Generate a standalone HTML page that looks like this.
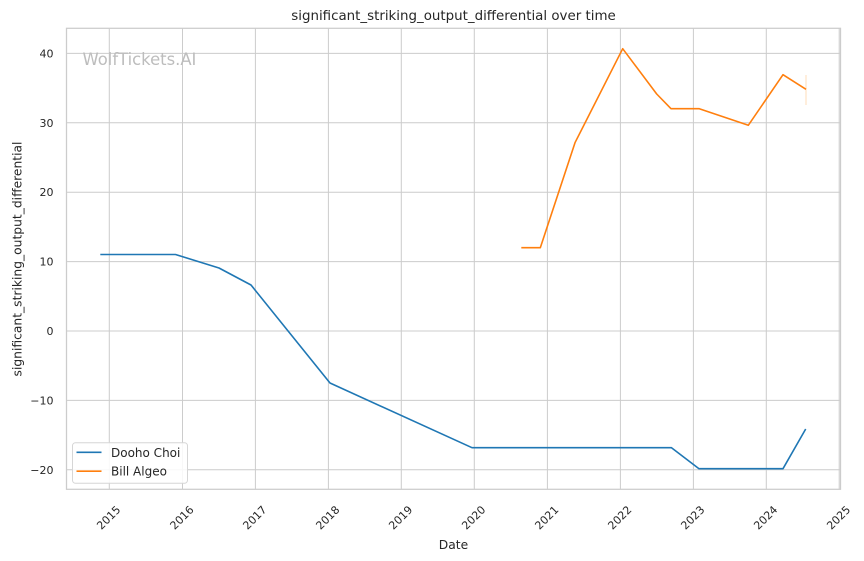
<!DOCTYPE html>
<html>
<head>
<meta charset="utf-8">
<style>
  html, body { margin:0; padding:0; background:#ffffff; }
  svg { display:block; }
  text { font-family: "DejaVu Sans", "Liberation Sans", sans-serif; fill:#262626; }
</style>
</head>
<body>
<svg width="864" height="561" viewBox="0 0 864 561" xmlns="http://www.w3.org/2000/svg">
  <rect x="0" y="0" width="864" height="561" fill="#ffffff"/>
  <!-- grid -->
  <g stroke="#cccccc" stroke-width="1" fill="none">
    <line x1="66.5" y1="469.8" x2="840.5" y2="469.8"/>
    <line x1="66.5" y1="400.4" x2="840.5" y2="400.4"/>
    <line x1="66.5" y1="331" x2="840.5" y2="331"/>
    <line x1="66.5" y1="261.6" x2="840.5" y2="261.6"/>
    <line x1="66.5" y1="192.2" x2="840.5" y2="192.2"/>
    <line x1="66.5" y1="122.8" x2="840.5" y2="122.8"/>
    <line x1="66.5" y1="53.4" x2="840.5" y2="53.4"/>
    <line x1="109.3" y1="28.3" x2="109.3" y2="489.3"/>
    <line x1="182.5" y1="28.3" x2="182.5" y2="489.3"/>
    <line x1="255.4" y1="28.3" x2="255.4" y2="489.3"/>
    <line x1="328.4" y1="28.3" x2="328.4" y2="489.3"/>
    <line x1="401.3" y1="28.3" x2="401.3" y2="489.3"/>
    <line x1="474.3" y1="28.3" x2="474.3" y2="489.3"/>
    <line x1="547.4" y1="28.3" x2="547.4" y2="489.3"/>
    <line x1="620.4" y1="28.3" x2="620.4" y2="489.3"/>
    <line x1="693.4" y1="28.3" x2="693.4" y2="489.3"/>
    <line x1="766.3" y1="28.3" x2="766.3" y2="489.3"/>
    <line x1="839.2" y1="28.3" x2="839.2" y2="489.3"/>
  </g>
  <!-- spines -->
  <rect x="66.5" y="28.3" width="774" height="461" fill="none" stroke="#cccccc" stroke-width="1.25"/>

  <!-- watermark -->
  <text x="82.5" y="65" font-size="16.4" style="fill:#bdbdbd">WolfTickets.AI</text>

  <!-- series -->
  <polyline fill="none" stroke="#1f77b4" stroke-width="1.6" stroke-linejoin="round"
    points="100.3,254.5 175.5,254.5 219,268 251,285 330,383 472,447.7 671.5,447.7 699,468.7 783,468.7 805.7,429"/>
  <line x1="806" y1="75" x2="806" y2="105" stroke="#ffdcb8" stroke-width="1"/>
  <polyline fill="none" stroke="#ff7f0e" stroke-width="1.6" stroke-linejoin="round"
    points="521.3,247.7 540.3,247.7 575,142.7 622.7,48.7 656.7,94 671,108.7 699.3,108.7 748.3,125.3 783,74.7 806,89.3"/>

  <!-- y tick labels -->
  <g font-size="11" text-anchor="end">
    <text x="53.5" y="473.8">−20</text>
    <text x="53.5" y="404.4">−10</text>
    <text x="53.5" y="335">0</text>
    <text x="53.5" y="265.6">10</text>
    <text x="53.5" y="196.2">20</text>
    <text x="53.5" y="126.8">30</text>
    <text x="53.5" y="57.4">40</text>
  </g>

  <!-- x tick labels -->
  <g font-size="11" text-anchor="middle">
    <text transform="translate(108.5,517.5) rotate(-45)" y="4">2015</text>
    <text transform="translate(181.7,517.5) rotate(-45)" y="4">2016</text>
    <text transform="translate(254.6,517.5) rotate(-45)" y="4">2017</text>
    <text transform="translate(327.6,517.5) rotate(-45)" y="4">2018</text>
    <text transform="translate(400.5,517.5) rotate(-45)" y="4">2019</text>
    <text transform="translate(473.5,517.5) rotate(-45)" y="4">2020</text>
    <text transform="translate(546.6,517.5) rotate(-45)" y="4">2021</text>
    <text transform="translate(619.6,517.5) rotate(-45)" y="4">2022</text>
    <text transform="translate(692.6,517.5) rotate(-45)" y="4">2023</text>
    <text transform="translate(765.5,517.5) rotate(-45)" y="4">2024</text>
    <text transform="translate(838.4,517.5) rotate(-45)" y="4">2025</text>
  </g>

  <!-- axis labels -->
  <text x="453.5" y="549" font-size="12.3" text-anchor="middle">Date</text>
  <text transform="translate(21.5,259) rotate(-90)" font-size="12.3" text-anchor="middle">significant_striking_output_differential</text>

  <!-- title -->
  <text x="453.5" y="20" font-size="13.4" text-anchor="middle">significant_striking_output_differential over time</text>

  <!-- legend -->
  <rect x="72.5" y="442.7" width="115" height="40.6" rx="3" ry="3" fill="#ffffff" fill-opacity="0.85" stroke="#d6d6d6" stroke-width="1"/>
  <line x1="76.5" y1="452.3" x2="101.5" y2="452.3" stroke="#1f77b4" stroke-width="1.6"/>
  <line x1="76.5" y1="471.2" x2="101.5" y2="471.2" stroke="#ff7f0e" stroke-width="1.6"/>
  <g font-size="12">
    <text x="111" y="456.8">Dooho Choi</text>
    <text x="111" y="475.7">Bill Algeo</text>
  </g>
</svg>
</body>
</html>
